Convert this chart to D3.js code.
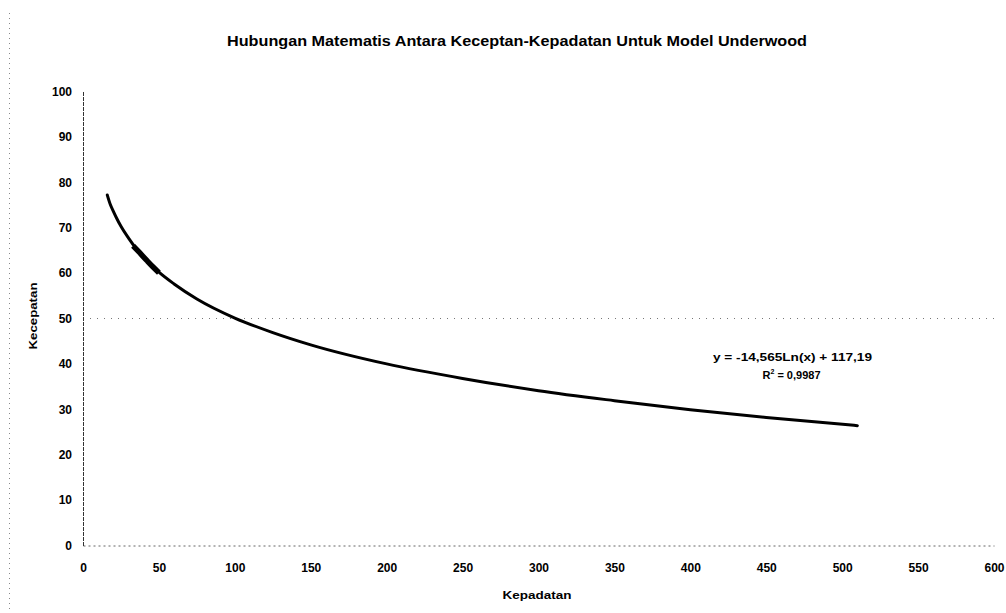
<!DOCTYPE html>
<html>
<head>
<meta charset="utf-8">
<script src="https://cdn.jsdelivr.net/npm/d3@7"></script>
<style>
  html, body { margin: 0; padding: 0; background: #fff; }
  svg { display: block; }
  text { font-family: "Liberation Sans", Arial, sans-serif; font-weight: bold; fill: #000; }
</style>
</head>
<body>
<svg id="chart" width="1006" height="613"></svg>
<script>
// ---- data ----
const titleText = "Hubungan Matematis Antara Keceptan-Kepadatan Untuk Model Underwood";
const xTitle = "Kepadatan";
const yTitle = "Kecepatan";
const xTicks = [0, 50, 100, 150, 200, 250, 300, 350, 400, 450, 500, 550, 600];
const yTicks = [0, 10, 20, 30, 40, 50, 60, 70, 80, 90, 100];
const gridValues = [50];
// trend curve (logarithmic fit)
const trendX = [16, 18, 20, 22, 25, 30, 35, 40, 50, 60, 75, 100, 125, 150, 200, 250, 300, 350, 400, 450, 510];
const trendY = [77.2, 75.1, 73.6, 72.2, 70.3, 67.7, 65.4, 63.5, 60.2, 57.6, 54.3, 50.1, 46.9, 44.2, 40.0, 36.8, 34.1, 31.9, 29.9, 28.2, 26.4];
// observed data segment (thicker part of the line)
const obsX = [33, 37, 42, 46, 50];
const obsY = [66.0, 64.6, 62.8, 61.4, 60.1];
const eqLine1 = "y = -14,565Ln(x) + 117,19";
const eqLine2 = "R";
const eqLine2b = "2";
const eqLine2c = " = 0,9987";

const svg = d3.select("#chart");
const x = d3.scaleLinear().domain([0, 600]).range([83, 994]);
const y = d3.scaleLinear().domain([0, 100]).range([545.5, 91.5]);

// outer dotted border on left
svg.append("line")
  .attr("x1", 9.5).attr("x2", 9.5).attr("y1", 13).attr("y2", 613)
  .attr("stroke", "#888").attr("stroke-width", 1).attr("stroke-dasharray", "1,4");

// title
svg.append("text")
  .attr("x", 517).attr("y", 46)
  .attr("text-anchor", "middle")
  .attr("font-size", 15)
  .attr("textLength", 580).attr("lengthAdjust", "spacingAndGlyphs")
  .text(titleText);

// gridlines
svg.append("g").selectAll("line").data(gridValues).join("line")
  .attr("x1", x(0)).attr("x2", x(600))
  .attr("y1", d => y(d)).attr("y2", d => y(d))
  .attr("stroke", "#777").attr("stroke-width", 1).attr("stroke-dasharray", "1,6");

// x axis
const xAxis = svg.append("g")
  .attr("transform", `translate(0,${y(0)})`)
  .call(d3.axisBottom(x).tickValues(xTicks).tickSize(0).tickPadding(18).tickFormat(d3.format("d")));
xAxis.select(".domain").attr("stroke", "#666").attr("stroke-dasharray", "2,3");
xAxis.selectAll("text").attr("font-size", 12).attr("font-family", "Liberation Sans, Arial, sans-serif").attr("font-weight", "bold");

// y axis
const yAxis = svg.append("g")
  .attr("transform", `translate(${x(0)},0)`)
  .call(d3.axisLeft(y).tickValues(yTicks).tickSize(0).tickPadding(11).tickFormat(d3.format("d")));
yAxis.select(".domain").attr("stroke", "#333").attr("stroke-dasharray", "4,1");
yAxis.selectAll("text").attr("font-size", 12).attr("font-family", "Liberation Sans, Arial, sans-serif").attr("font-weight", "bold");

// axis titles
svg.append("text")
  .attr("x", 537).attr("y", 599)
  .attr("text-anchor", "middle").attr("font-size", 11)
  .attr("textLength", 69).attr("lengthAdjust", "spacingAndGlyphs")
  .text(xTitle);
svg.append("text")
  .attr("transform", `translate(37,316) rotate(-90)`)
  .attr("text-anchor", "middle").attr("font-size", 11)
  .attr("textLength", 67).attr("lengthAdjust", "spacingAndGlyphs")
  .text(yTitle);

// curves
const line = d3.line().x(d => x(d[0])).y(d => y(d[1])).curve(d3.curveMonotoneX);
svg.append("path")
  .datum(trendX.map((v, i) => [v, trendY[i]]))
  .attr("d", line)
  .attr("fill", "none").attr("stroke", "#000").attr("stroke-width", 3).attr("stroke-linecap", "round");
svg.append("path")
  .datum(obsX.map((v, i) => [v, obsY[i]]))
  .attr("d", line)
  .attr("fill", "none").attr("stroke", "#000").attr("stroke-width", 5.5).attr("stroke-linecap", "butt");

// equation label
svg.append("text")
  .attr("x", 792.5).attr("y", 361)
  .attr("text-anchor", "middle").attr("font-size", 11)
  .attr("textLength", 159).attr("lengthAdjust", "spacingAndGlyphs")
  .text(eqLine1);
const t2 = svg.append("text")
  .attr("x", 791.5).attr("y", 379)
  .attr("text-anchor", "middle").attr("font-size", 11);
t2.append("tspan").text(eqLine2);
t2.append("tspan").attr("font-size", 7).attr("dy", -5).text(eqLine2b);
t2.append("tspan").attr("dy", 5).text(eqLine2c);
</script>
</body>
</html>
